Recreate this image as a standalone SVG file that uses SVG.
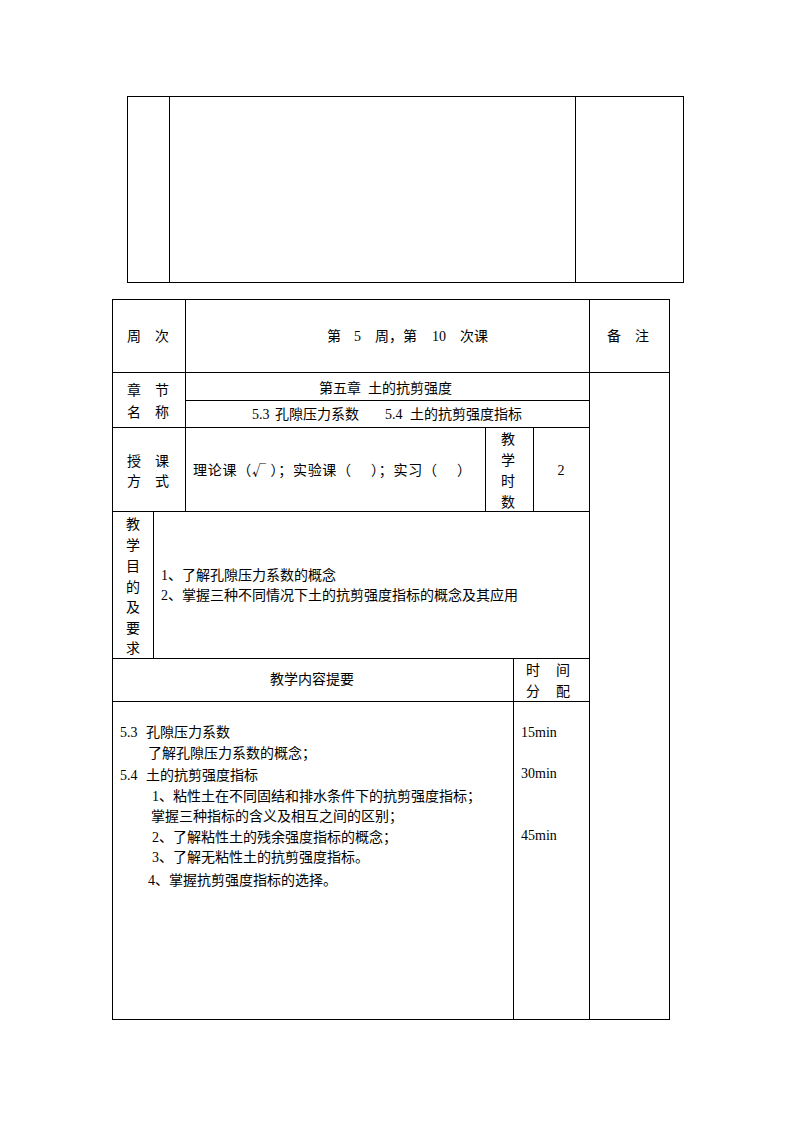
<svg xmlns="http://www.w3.org/2000/svg" width="794" height="1123" viewBox="0 0 794 1123">
<style>
.ln{stroke:#000;stroke-width:1;fill:none}
.t{font-family:"Liberation Serif","Noto Sans CJK SC",serif;font-size:14px;fill:#000}
.c{font-family:"Noto Sans CJK SC",sans-serif;font-size:14px;fill:#000}
.m{text-anchor:middle}
</style>
<rect width="794" height="1123" fill="#fff"/>
<g id="top-table">
<rect class="ln" x="127.5" y="96.5" width="556" height="186"/>
<line class="ln" x1="169.5" y1="96" x2="169.5" y2="283"/>
<line class="ln" x1="575.5" y1="96" x2="575.5" y2="283"/>
</g>
<g id="grid">
<rect class="ln" x="112.5" y="299.5" width="557" height="720"/>
<line class="ln" x1="112" y1="372.5" x2="670" y2="372.5"/>
<line class="ln" x1="185" y1="400.5" x2="590" y2="400.5"/>
<line class="ln" x1="112" y1="427.5" x2="590" y2="427.5"/>
<line class="ln" x1="112" y1="511.5" x2="590" y2="511.5"/>
<line class="ln" x1="112" y1="658.5" x2="590" y2="658.5"/>
<line class="ln" x1="112" y1="701.5" x2="590" y2="701.5"/>
<line class="ln" x1="185.5" y1="299" x2="185.5" y2="512"/>
<line class="ln" x1="589.5" y1="299" x2="589.5" y2="1020"/>
<line class="ln" x1="485.5" y1="427" x2="485.5" y2="512"/>
<line class="ln" x1="533.5" y1="427" x2="533.5" y2="512"/>
<line class="ln" x1="153.5" y1="511" x2="153.5" y2="659"/>
<line class="ln" x1="513.5" y1="658" x2="513.5" y2="1020"/>
</g>
<g id="row-week">
<text class="t" x="127" y="341">周　次</text>
<text class="t" y="341"><tspan x="327">第</tspan><tspan x="354">5</tspan><tspan x="375">周，第</tspan><tspan x="432">10</tspan><tspan x="460">次课</tspan></text>
<text class="t" x="607" y="341">备　注</text>
</g>
<g id="row-chapter">
<text class="t" x="127" y="395">章　节</text>
<text class="t" x="127" y="417">名　称</text>
<text class="t" y="393"><tspan x="319">第五章</tspan><tspan x="368">土的抗剪强度</tspan></text>
<text class="t" y="419"><tspan x="252">5.3</tspan><tspan x="275">孔隙压力系数</tspan><tspan x="385">5.4</tspan><tspan x="410">土的抗剪强度指标</tspan></text>
</g>
<g id="row-mode">
<text class="t" x="127" y="466">授　课</text>
<text class="t" x="127" y="486">方　式</text>
<text class="c" x="193" y="475" xml:space="preserve" textLength="278" lengthAdjust="spacing">理论课（√ ）；实验课（     ）；实习（     ）</text>
<text class="t m" x="508" y="444">教</text>
<text class="t m" x="508" y="465">学</text>
<text class="t m" x="508" y="486">时</text>
<text class="t m" x="508" y="507">数</text>
<text class="t m" x="561" y="475">2</text>
</g>
<g id="row-goals">
<text class="t m" x="133" y="529">教</text>
<text class="t m" x="133" y="550">学</text>
<text class="t m" x="133" y="571">目</text>
<text class="t m" x="133" y="592">的</text>
<text class="t m" x="133" y="612">及</text>
<text class="t m" x="133" y="633">要</text>
<text class="t m" x="133" y="653">求</text>
<text class="t" x="161" y="580">1、了解孔隙压力系数的概念</text>
<text class="t" x="161" y="600">2、掌握三种不同情况下土的抗剪强度指标的概念及其应用</text>
</g>
<g id="row-header">
<text class="t m" x="312" y="684">教学内容提要</text>
<text class="t" y="675"><tspan x="526">时</tspan><tspan x="556">间</tspan></text>
<text class="t" y="696"><tspan x="526">分</tspan><tspan x="556">配</tspan></text>
</g>
<g id="row-content">
<text class="t" y="737"><tspan x="120">5.3</tspan><tspan x="146">孔隙压力系数</tspan></text>
<text class="t" x="148" y="758">了解孔隙压力系数的概念；</text>
<text class="t" y="780"><tspan x="120">5.4</tspan><tspan x="146">土的抗剪强度指标</tspan></text>
<text class="t" x="152" y="801">1、粘性土在不同固结和排水条件下的抗剪强度指标；</text>
<text class="t" x="151" y="821">掌握三种指标的含义及相互之间的区别；</text>
<text class="t" x="152" y="842">2、了解粘性土的残余强度指标的概念；</text>
<text class="t" x="152" y="862">3、了解无粘性土的抗剪强度指标。</text>
<text class="t" x="148" y="885">4、掌握抗剪强度指标的选择。</text>
<text class="t" x="521" y="737">15min</text>
<text class="t" x="521" y="778">30min</text>
<text class="t" x="521" y="840">45min</text>
</g>
</svg>
